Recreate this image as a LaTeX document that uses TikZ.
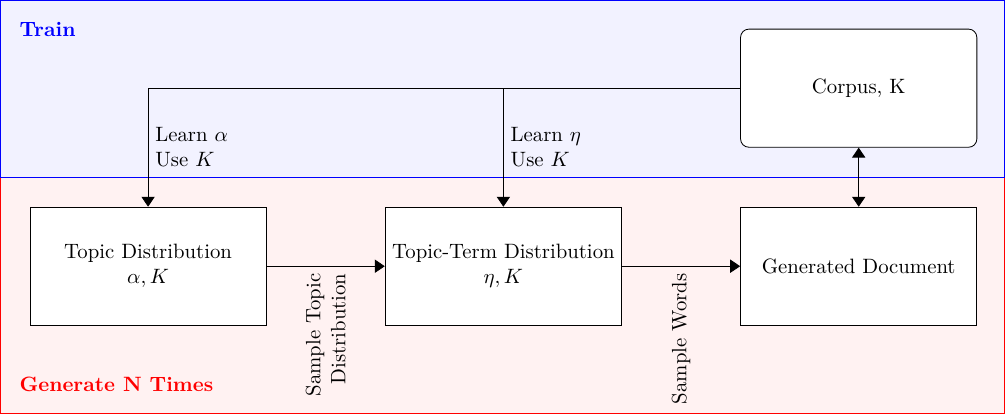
\documentclass[tikz,border=0pt]{standalone}
\usetikzlibrary{positioning,arrows.meta}

\begin{document}
\begin{tikzpicture}[node distance=2cm,
        box/.style={draw, fill=white, minimum width=4cm, minimum height=2cm, align=center},
        tip/.tip={Triangle[length=4.8pt, width=6.4pt]},
        flow/.style={-tip}]
        % Regions
        \draw[red, fill=red!5] (-2.5,-2.5) rectangle (14.5,1.5);
        \draw[blue, fill=blue!5] (-2.5,1.5) rectangle (14.5,4.5);
        \node (train) [anchor=west, text=blue] at (-2.3,4) {\textbf{Train}};
        \node (gen) [anchor=west, text=red] at (-2.3,-2) {\textbf{Generate N Times}};

        % Generation boxes
        \node (topic) [box] {Topic Distribution\\ \(\alpha, K\)};
        \node (term) [box, right=of topic] {Topic-Term Distribution\\ \(\eta, K\)};
        \node (doc) [box, right=of term] {Generated Document};
        % Corpus
        \node (corpus) [box, rounded corners, above=1cm of doc] {Corpus, K};

        % Training arrows
        \draw[flow] (corpus.west) -| (topic.north)
            node[pos=0.75, right, align=left] {Learn \(\alpha\)\\ Use \(K\)};
        \draw[flow] (corpus.west -| term.north) -- (term.north)
            node[midway, right, align=left] {Learn \(\eta\)\\ Use \(K\)};
        \draw[tip-tip] (corpus) -- (doc);

        % Sampling arrows
        \draw[flow] (topic) -- (term)
            node[midway, rotate=90, anchor=east, align=right] {Sample Topic\\ Distribution};
        \draw[flow] (term) -- (doc)
            node[midway, rotate=90, anchor=east] {Sample Words};
\end{tikzpicture}
\end{document}
